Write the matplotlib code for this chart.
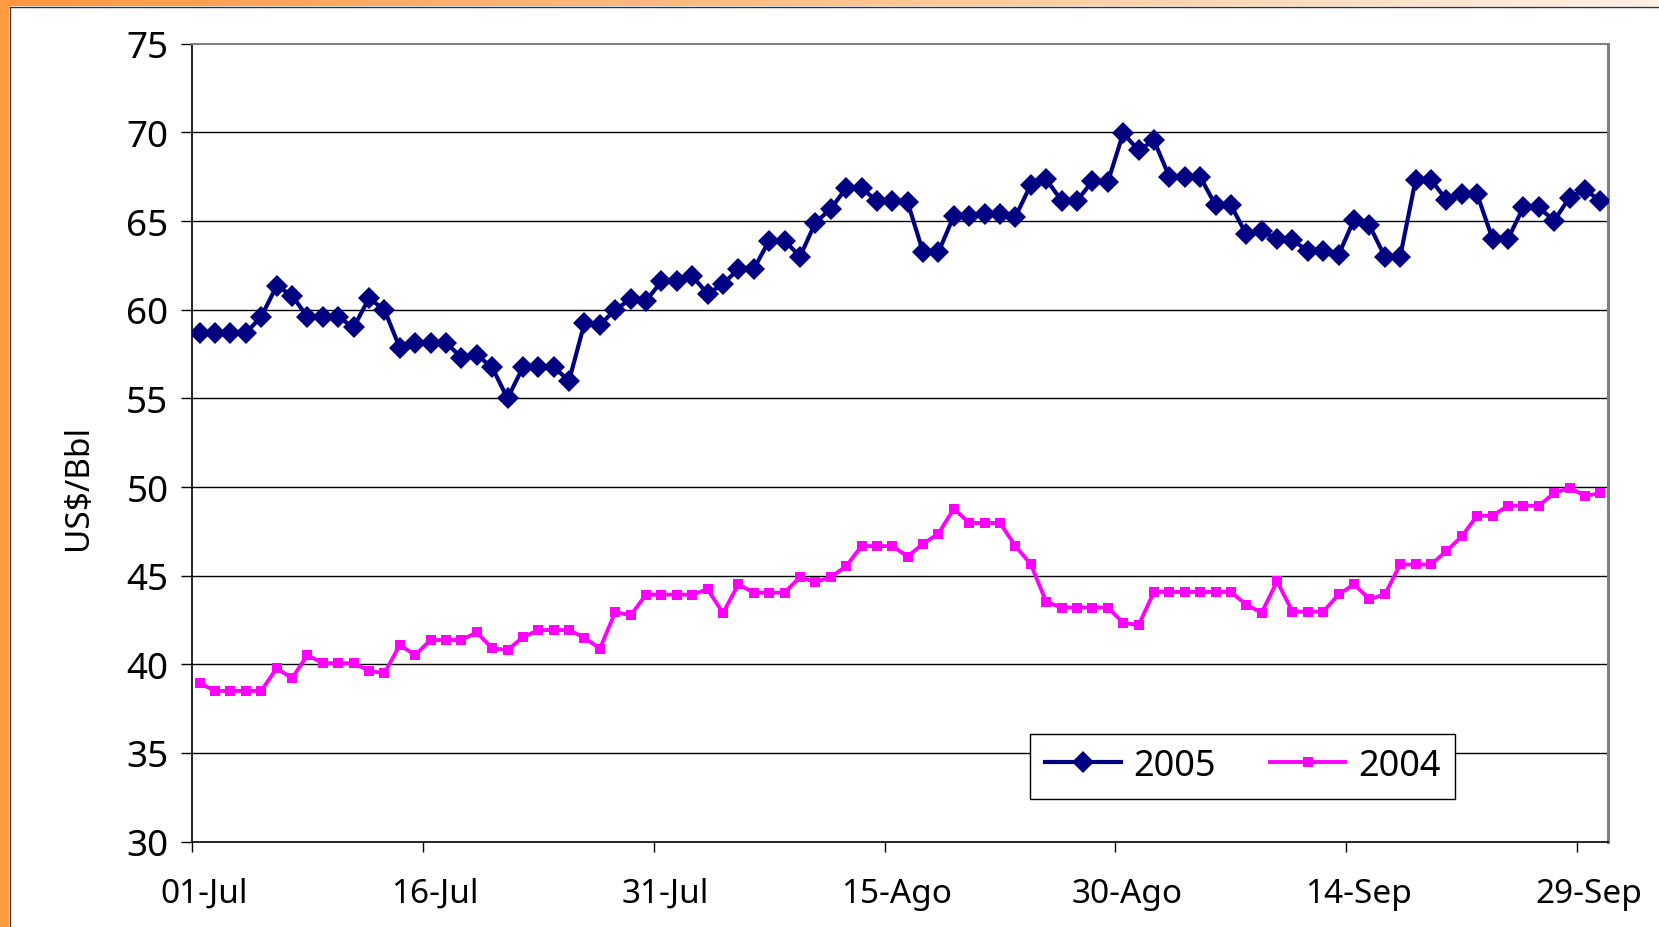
import matplotlib
matplotlib.use("Agg")
import matplotlib.pyplot as plt
import matplotlib.transforms as mtransforms
from matplotlib.patches import Rectangle
import numpy as np

plt.rcParams['font.family'] = ['Noto Sans', 'DejaVu Sans']

# daily Brent-style prices, 01-Jul .. 30-Sep
price_2005 = [58.7, 58.7, 58.7, 58.7, 59.6, 61.35, 60.8, 59.6, 59.6, 59.6,
              59.0, 60.65, 60.0, 57.85, 58.15, 58.15, 58.15, 57.3, 57.45, 56.75,
              55.0, 56.75, 56.75, 56.75, 56.0, 59.25, 59.15, 60.0, 60.6, 60.5,
              61.6, 61.6, 61.9, 60.9, 61.45, 62.3, 62.3, 63.9, 63.9, 63.0,
              64.9, 65.7, 66.85, 66.85, 66.15, 66.15, 66.05, 63.25, 63.25, 65.3,
              65.3, 65.4, 65.4, 65.25, 67.05, 67.35, 66.15, 66.15, 67.25, 67.2,
              69.95, 69.0, 69.55, 67.5, 67.5, 67.5, 65.9, 65.9, 64.25, 64.42,
              64.0, 63.95, 63.3, 63.3, 63.1, 65.08, 64.76, 63.0, 63.0, 67.33,
              67.33, 66.2, 66.5, 66.5, 64.0, 64.0, 65.77, 65.77, 65.02, 66.33,
              66.77, 66.15]

price_2004 = [38.93, 38.5, 38.5, 38.5, 38.5, 39.78, 39.21, 40.52, 40.06, 40.06,
              40.06, 39.64, 39.49, 41.09, 40.52, 41.37, 41.37, 41.37, 41.8, 40.9,
              40.81, 41.52, 41.93, 41.93, 41.93, 41.5, 40.88, 42.95, 42.76, 43.93,
              43.93, 43.93, 43.93, 44.23, 42.89, 44.51, 44.04, 44.04, 44.04, 44.92,
              44.64, 44.92, 45.53, 46.67, 46.67, 46.67, 46.08, 46.8, 47.37, 48.78,
              47.97, 47.97, 47.97, 46.67, 45.64, 43.52, 43.2, 43.2, 43.2, 43.2,
              42.35, 42.2, 44.08, 44.08, 44.08, 44.08, 44.08, 44.08, 43.36, 42.91,
              44.68, 42.97, 42.97, 42.97, 43.94, 44.51, 43.68, 43.94, 45.63, 45.63,
              45.63, 46.38, 47.22, 48.38, 48.38, 48.94, 48.94, 48.94, 49.65, 49.96,
              49.5, 49.65]

tick_labels = ["01-Jul", "16-Jul", "31-Jul", "15-Ago", "30-Ago", "14-Sep", "29-Sep"]
yticks = [30, 35, 40, 45, 50, 55, 60, 65, 70, 75]

x = np.arange(len(price_2005))

fig = plt.figure(figsize=(16.59, 9.28), dpi=100)
fig.patch.set_facecolor("white")

# orange frame: left strip + top gradient strip
fig.add_artist(Rectangle((0, 0), 9 / 1659, 1, transform=fig.transFigure,
                         facecolor="#ff9a40", edgecolor="none"))
grad_ax = fig.add_axes([0, 1 - 7 / 928, 1, 7 / 928])
grad = np.linspace(0, 1, 256).reshape(1, -1)
c0 = np.array([255, 150, 60]) / 255
c1 = np.array([255, 240, 228]) / 255
img = c0[None, None, :] * (1 - grad[..., None]) + c1[None, None, :] * grad[..., None]
grad_ax.imshow(img, aspect="auto")
grad_ax.axis("off")
fig.add_artist(plt.Line2D([9.5 / 1659, 9.5 / 1659], [0, 1 - 7.5 / 928],
                          transform=fig.transFigure, color="#333333", lw=1))
fig.add_artist(plt.Line2D([9.5 / 1659, 1], [1 - 7.5 / 928, 1 - 7.5 / 928],
                          transform=fig.transFigure, color="#333333", lw=1))

ax = fig.add_axes([192 / 1659, 1 - 842.6 / 928, (1608 - 192) / 1659, (842.6 - 44.8) / 928])

for y in yticks[1:-1]:
    ax.axhline(y, color="black", lw=1.0, zorder=1)

ax.plot(x, price_2005, color="#000080", lw=3.0, marker="D", markersize=11.5,
        markeredgewidth=0, label="2005", zorder=3)
ax.plot(x, price_2004, color="#ff00ff", lw=2.8, marker="s", markersize=7.5,
        markeredgewidth=0, label="2004", zorder=3)

ax.set_xlim(-0.5, len(x) - 0.5)
ax.set_ylim(30, 75)
ax.set_yticks(yticks)
ax.set_xticks(np.arange(0, len(x), 15) - 0.5)
ax.set_xticklabels(tick_labels)

ax.tick_params(axis="y", length=8, width=1, direction="out", labelsize=26.5, pad=9)
ax.tick_params(axis="x", length=7, width=1, direction="out", labelsize=24, pad=18.5)
offset = mtransforms.ScaledTranslation(12 / 100, 0, fig.dpi_scale_trans)
for lab in ax.get_xticklabels():
    lab.set_transform(lab.get_transform() + offset)

ax.spines["left"].set_color("black")
ax.spines["bottom"].set_color("black")
ax.spines["left"].set_linewidth(1.2)
ax.spines["bottom"].set_linewidth(1.2)
ax.spines["top"].set_color("#808080")
ax.spines["top"].set_linewidth(1.5)
ax.spines["right"].set_color("#808080")
ax.spines["right"].set_linewidth(2.2)

fig.text(79 / 1659, 1 - 487 / 928, "US$/Bbl", rotation=90, fontsize=24,
         ha="center", va="center")

leg = ax.legend(loc="lower left", bbox_to_anchor=(0.592, 0.054, 0.30, 0.077),
                mode="expand", ncol=2, fontsize=26, frameon=True, fancybox=False,
                borderaxespad=0, handlelength=2.1, handletextpad=0.35,
                columnspacing=1.3, borderpad=0.4)
leg.get_frame().set_edgecolor("black")
leg.get_frame().set_linewidth(1.0)
leg.get_frame().set_alpha(1)

fig.savefig("out.png", dpi=100, facecolor="white")
